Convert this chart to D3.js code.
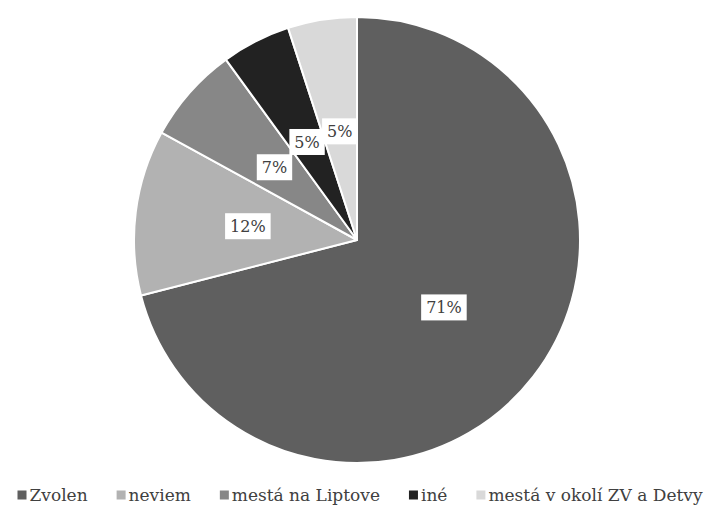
<!DOCTYPE html>
<html><head><meta charset="utf-8">
<script src="https://cdn.jsdelivr.net/npm/d3@7"></script>
<style>body{margin:0;background:#fff}</style>
</head><body>
<svg id="chart" width="714" height="507"></svg>
<script>
const categories = ["Zvolen", "neviem", "mestá na Liptove", "iné", "mestá v okolí ZV a Detvy"];
const values = [71, 12, 7, 5, 5];
const colors = ["#5f5f5f", "#b2b2b2", "#878787", "#222222", "#d9d9d9"];

const svg = d3.select("#chart");
const cx = 357, cy = 240, R = 223;
const font = "'DejaVu Serif', serif";

const data = categories.map((c, i) => ({cat: c, value: values[i], color: colors[i]}));
const pie = d3.pie().value(d => d.value).sort(null);
const arcs = pie(data);
const arc = d3.arc().innerRadius(0).outerRadius(R);
const labelArc = d3.arc().innerRadius(110).outerRadius(110);

const g = svg.append("g").attr("transform", `translate(${cx},${cy})`);
g.selectAll("path").data(arcs).join("path")
  .attr("d", arc).attr("fill", d => d.data.color)
  .attr("stroke", "#fff").attr("stroke-width", 2).attr("stroke-linejoin", "round");

const total = d3.sum(values);
const lbl = g.selectAll("g.lbl").data(arcs).join("g").attr("class", "lbl")
  .attr("transform", d => `translate(${labelArc.centroid(d)})`);
lbl.append("rect").attr("fill", "#fff");
lbl.append("text").attr("text-anchor", "middle").attr("dy", "0.36em")
  .attr("font-family", font).attr("font-size", 16).attr("fill", "#404040")
  .text(d => Math.round(d.data.value / total * 100) + "%");
lbl.each(function() {
  const t = d3.select(this).select("text").node();
  const w = t.getComputedTextLength();
  d3.select(this).select("rect").attr("x", -w / 2 - 5).attr("y", -13).attr("width", w + 10).attr("height", 26);
});

// Legend
const legend = svg.append("g").attr("transform", "translate(0,495)");
const items = legend.selectAll("g").data(data).join("g");
items.append("rect").attr("width", 9).attr("height", 9).attr("y", -4.5).attr("fill", d => d.color);
items.append("text").attr("x", 12).attr("dy", "0.35em")
  .attr("font-family", font).attr("font-size", 17).attr("fill", "#404040").text(d => d.cat);
let widths = [];
items.each(function() { widths.push(12 + d3.select(this).select("text").node().getComputedTextLength()); });
const gap = 29;
const totalW = d3.sum(widths) + gap * (widths.length - 1);
let x = (714 - totalW) / 2 + 3;
items.each(function(d, i) { d3.select(this).attr("transform", `translate(${x},0)`); x += widths[i] + gap; });
</script>
</body></html>
